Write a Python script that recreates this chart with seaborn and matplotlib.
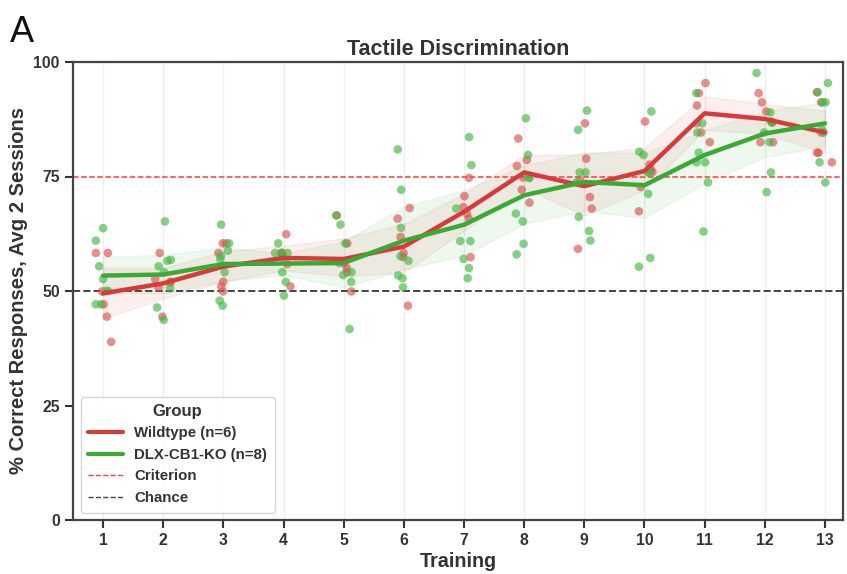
import numpy as np
import pandas as pd
import matplotlib
matplotlib.use("Agg")
import matplotlib.pyplot as plt
import seaborn as sns
from matplotlib.lines import Line2D

sessions = list(range(1, 14))

wildtype_scores = [
    [58.3, 58.3, 49.9, 44.4, 38.9, 47.1],
    [58.3, 51.9, 50.8, 44.4, 52.0, 52.6],
    [60.4, 60.4, 58.3, 52.0, 51.0, 49.9],
    [62.4, 58.3, 57.4, 55.9, 58.3, 51.0],
    [66.5, 60.4, 56.1, 54.1, 49.9, 55.0],
    [68.1, 65.8, 61.8, 57.4, 46.8, 58.3],
    [74.7, 70.7, 68.3, 65.8, 57.4, 66.9],
    [83.3, 78.6, 77.3, 72.1, 69.3, 74.8],
    [86.6, 78.9, 70.5, 68.0, 59.2, 74.2],
    [87.0, 77.6, 76.0, 72.7, 67.4, 76.5],
    [95.4, 93.2, 86.6, 84.6, 82.5, 90.5],
    [93.2, 91.2, 89.2, 86.8, 82.5, 82.5],
    [93.4, 91.2, 84.6, 80.2, 78.1, 80.2],
]

ko_scores = [
    [63.7, 61.0, 55.4, 52.6, 50.0, 50.0, 47.1, 47.1],
    [65.2, 56.8, 55.4, 54.1, 50.6, 46.4, 43.7, 56.6],
    [64.5, 60.4, 58.8, 57.0, 54.1, 47.9, 46.8, 57.7],
    [60.4, 58.3, 57.5, 54.1, 52.0, 49.0, 58.3, 58.3],
    [66.5, 64.5, 60.4, 56.1, 54.1, 52.0, 41.7, 53.5],
    [80.9, 72.1, 63.8, 57.6, 53.4, 52.8, 50.8, 56.6],
    [83.6, 77.5, 68.0, 60.9, 60.9, 57.0, 55.0, 52.8],
    [87.7, 79.7, 74.7, 74.7, 66.9, 65.2, 60.3, 58.0],
    [89.4, 85.2, 75.9, 75.9, 66.2, 63.1, 61.0, 73.7],
    [89.2, 80.4, 79.7, 71.2, 57.2, 55.3, 76.0, 75.8],
    [93.2, 86.6, 84.6, 80.2, 78.1, 78.1, 73.7, 63.0],
    [97.6, 89.0, 86.8, 84.6, 82.5, 75.9, 71.6, 87.0],
    [95.4, 93.4, 91.2, 84.6, 78.1, 73.7, 91.2, 85.2],
]

group_labels = ["Wildtype (n=6)", "DLX-CB1-KO (n=8)"]
criterion = 75
chance = 50
yticks = [0, 25, 50, 75, 100]

rows = []
for s, vals in zip(sessions, wildtype_scores):
    for v in vals:
        rows.append({"Training": s, "Score": v, "Group": group_labels[0]})
for s, vals in zip(sessions, ko_scores):
    for v in vals:
        rows.append({"Training": s, "Score": v, "Group": group_labels[1]})
df = pd.DataFrame(rows)

sns.set_style("ticks")
plt.rcParams["font.family"] = ["Liberation Sans", "DejaVu Sans"]

line_colors = {group_labels[0]: "#d63a3a", group_labels[1]: "#3aaa35"}
point_colors = {group_labels[0]: "#d9534f", group_labels[1]: "#45b845"}

fig = plt.figure(figsize=(8.47, 5.74), dpi=100)
ax = fig.add_axes([73 / 847, 1 - 520 / 574, (843 - 73) / 847, (520 - 62) / 574])

for x in sessions:
    ax.axvline(x, color="#eeeeee", lw=1, zorder=0)

np.random.seed(7)
sns.stripplot(data=df, x="Training", y="Score", hue="Group", palette=point_colors,
              native_scale=True, jitter=0.14, size=6.2, alpha=0.65, linewidth=0,
              ax=ax, legend=False, zorder=2)

sns.lineplot(data=df, x="Training", y="Score", hue="Group", palette=line_colors,
             errorbar=("ci", 95), seed=3, lw=3.2, ax=ax, legend=False,
             err_kws={"alpha": 0.08}, zorder=3)

ax.axhline(criterion, color="#ff3b3b", ls="--", lw=1.1, zorder=1)
ax.axhline(chance, color="#444444", ls="--", lw=1.4, zorder=1)

ax.set_xlim(0.5, 13.3)
ax.set_ylim(0, 100)
ax.set_xticks(sessions)
ax.set_yticks(yticks)
ax.tick_params(axis="both", labelsize=11.3, width=1.5, length=6, color="#333333", labelcolor="#333333")
for lab in ax.get_xticklabels() + ax.get_yticklabels():
    lab.set_fontweight("bold")
for sp in ax.spines.values():
    sp.set_color("#444444")
    sp.set_linewidth(1.6)

ax.set_xlabel("Training", fontsize=14.2, fontweight="bold", color="#333333", labelpad=3)
ax.set_ylabel("% Correct Responses, Avg 2 Sessions", fontsize=14.5, fontweight="bold", color="#333333", labelpad=4)
ax.set_title("Tactile Discrimination", fontsize=15.5, fontweight="bold", color="#333333", pad=5)

handles = [
    Line2D([0], [0], color=line_colors[group_labels[0]], lw=3),
    Line2D([0], [0], color=line_colors[group_labels[1]], lw=3),
    Line2D([0], [0], color="#ff3b3b", lw=1, ls="--"),
    Line2D([0], [0], color="#444444", lw=1, ls="--"),
]
leg = ax.legend(handles, group_labels + ["Criterion", "Chance"], title="Group",
                loc="lower left", title_fontsize=12, frameon=True,
                prop={"weight": "bold", "size": 10.8}, borderpad=0.5,
                handlelength=2.3, labelspacing=0.5)
leg.get_title().set_fontweight("bold")
leg.get_title().set_color("#333333")
for t in leg.get_texts():
    t.set_color("#333333")
leg.get_frame().set_edgecolor("#cccccc")

fig.text(10 / 847, 1 - 42 / 574, "A", fontsize=26, color="#111111", va="baseline", ha="left")

fig.savefig("out.png", dpi=100)
